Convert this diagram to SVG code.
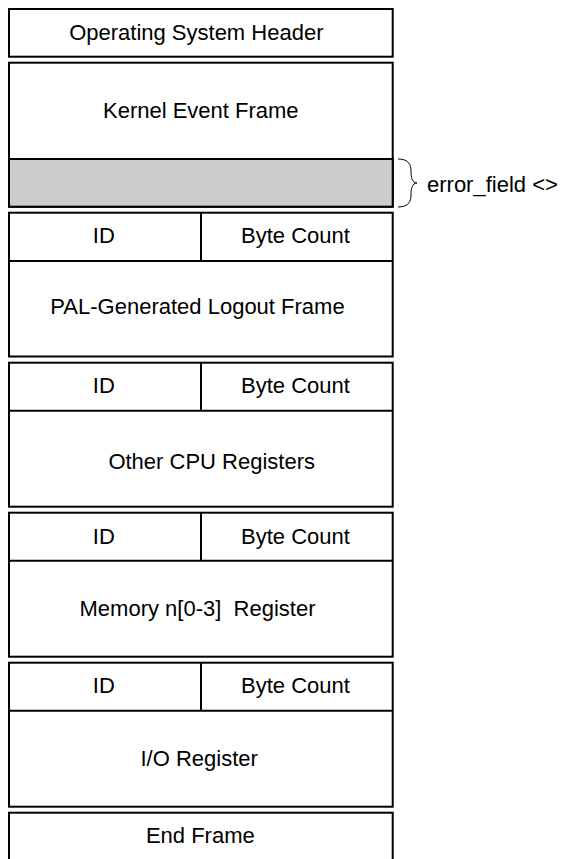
<svg xmlns="http://www.w3.org/2000/svg" width="566" height="859" viewBox="0 0 566 859">
  <style>
    .box { fill: #ffffff; stroke: #000000; stroke-width: 2; }
    .shade { fill: #cccccc; stroke: #000000; stroke-width: 2; }
    .rule { stroke: #000000; stroke-width: 2; fill: none; }
    .brace { stroke: #000000; stroke-width: 1; fill: none; }
    text { font-family: "Liberation Sans", Arial, Helvetica, sans-serif; font-size: 22px; fill: #000000; }
    .c { text-anchor: middle; }
  </style>
  <rect width="566" height="859" fill="#ffffff"/>

  <!-- Operating system header -->
  <g id="os-header">
    <rect class="box" x="9" y="9" width="383.7" height="47.7"/>
    <text class="c" x="196.3" y="40">Operating System Header</text>
  </g>

  <!-- Kernel event frame with shaded error field -->
  <g id="kernel-event-frame">
    <rect class="box" x="9" y="62.7" width="383.7" height="144"/>
    <rect class="shade" x="9" y="159" width="383.7" height="47.7"/>
    <text class="c" x="200.8" y="118.3">Kernel Event Frame</text>
  </g>

  <!-- PAL-generated logout frame -->
  <g id="pal-logout-frame">
    <rect class="box" x="9" y="212.7" width="383.7" height="143.8"/>
    <line class="rule" x1="9" y1="261" x2="392.7" y2="261"/>
    <line class="rule" x1="201" y1="212.7" x2="201" y2="261"/>
    <text class="c" x="103.8" y="243.3">ID</text>
    <text class="c" x="295.5" y="243.3">Byte Count</text>
    <text class="c" x="197.5" y="314.3">PAL-Generated Logout Frame</text>
  </g>

  <!-- Other CPU registers -->
  <g id="cpu-registers">
    <rect class="box" x="9" y="362.7" width="383.7" height="144"/>
    <line class="rule" x1="9" y1="410.7" x2="392.7" y2="410.7"/>
    <line class="rule" x1="201" y1="362.7" x2="201" y2="410.7"/>
    <text class="c" x="103.8" y="392.7">ID</text>
    <text class="c" x="295.5" y="392.7">Byte Count</text>
    <text class="c" x="211.7" y="468.5">Other CPU Registers</text>
  </g>

  <!-- Memory registers -->
  <g id="memory-registers">
    <rect class="box" x="9" y="512.7" width="383.7" height="144"/>
    <line class="rule" x1="9" y1="560.7" x2="392.7" y2="560.7"/>
    <line class="rule" x1="201" y1="512.7" x2="201" y2="560.7"/>
    <text class="c" x="103.8" y="544">ID</text>
    <text class="c" x="295.5" y="544">Byte Count</text>
    <text class="c" x="197.5" y="616" xml:space="preserve">Memory n[0-3]  Register</text>
  </g>

  <!-- I/O registers -->
  <g id="io-register">
    <rect class="box" x="9" y="662.7" width="383.7" height="144"/>
    <line class="rule" x1="9" y1="710.7" x2="392.7" y2="710.7"/>
    <line class="rule" x1="201" y1="662.7" x2="201" y2="710.7"/>
    <text class="c" x="103.8" y="692.7">ID</text>
    <text class="c" x="295.5" y="692.7">Byte Count</text>
    <text class="c" x="199.2" y="766">I/O Register</text>
  </g>

  <!-- End frame (runs off the bottom edge) -->
  <g id="end-frame">
    <rect class="box" x="9" y="812.7" width="383.7" height="60"/>
    <text class="c" x="200.3" y="842.7">End Frame</text>
  </g>

  <!-- Brace labelling the shaded field -->
  <g id="error-field">
    <path class="brace" d="M398,159 C409,159 411,165 411,171 C411,177 412,183 417,183 C412,183 411,189 411,195 C411,201 409,207 398,207"/>
    <text x="427" y="191.7">error_field &lt;&gt;</text>
  </g>
</svg>
